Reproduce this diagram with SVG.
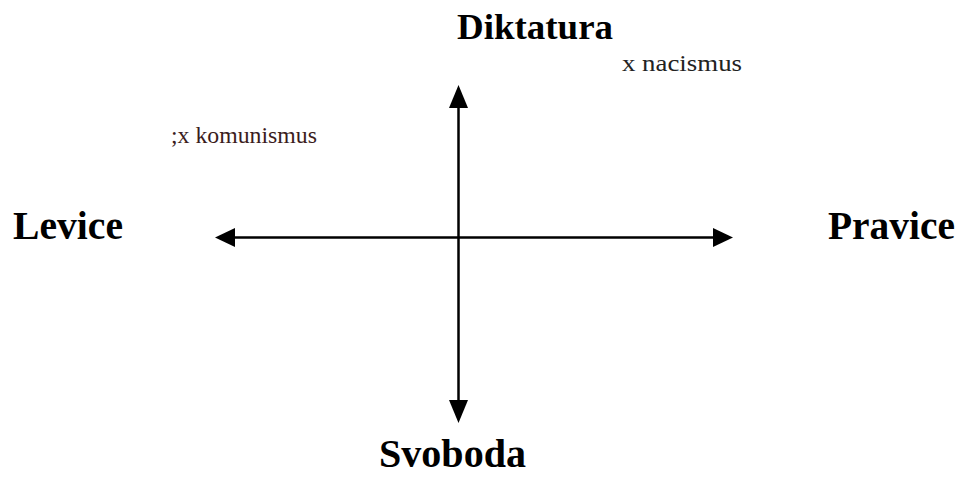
<svg xmlns="http://www.w3.org/2000/svg" width="957" height="477" viewBox="0 0 957 477">
<style>
.big{font-family:"Liberation Serif","Times New Roman",serif;font-weight:bold;fill:#000}
.small{font-family:"Liberation Serif","Times New Roman",serif;font-size:23px}
.ax{stroke:#000;stroke-width:2.5;fill:none}
.head{fill:#000}
</style>
<rect width="957" height="477" fill="#fff"/>
<g id="connectors">
<line class="ax" x1="233" y1="237.5" x2="715" y2="237.5"/>
<line class="ax" x1="458.5" y1="106" x2="458.5" y2="402"/>
<polygon class="head" points="215,237.5 235,228 235,247"/>
<polygon class="head" points="733,237.5 713,228 713,247"/>
<polygon class="head" points="458.5,85 449,108 468,108"/>
<polygon class="head" points="458.5,423 449,400 468,400"/>
</g>
<g id="diktatura"><text class="big" x="457" y="39" font-size="36" textLength="156" lengthAdjust="spacingAndGlyphs">Diktatura</text></g>
<g id="svoboda"><text class="big" x="379" y="467" font-size="39" textLength="147" lengthAdjust="spacingAndGlyphs">Svoboda</text></g>
<g id="levice"><text class="big" x="13" y="239" font-size="39" textLength="110" lengthAdjust="spacingAndGlyphs">Levice</text></g>
<g id="pravice"><text class="big" x="828" y="239" font-size="39" textLength="127" lengthAdjust="spacingAndGlyphs">Pravice</text></g>
<g id="nacismus"><text class="small" x="622" y="71" fill="#222" textLength="120" lengthAdjust="spacingAndGlyphs">x nacismus</text></g>
<g id="komunismus"><text class="small" x="171" y="143" fill="#3b1c1c" textLength="146" lengthAdjust="spacingAndGlyphs">;x komunismus</text></g>
</svg>
